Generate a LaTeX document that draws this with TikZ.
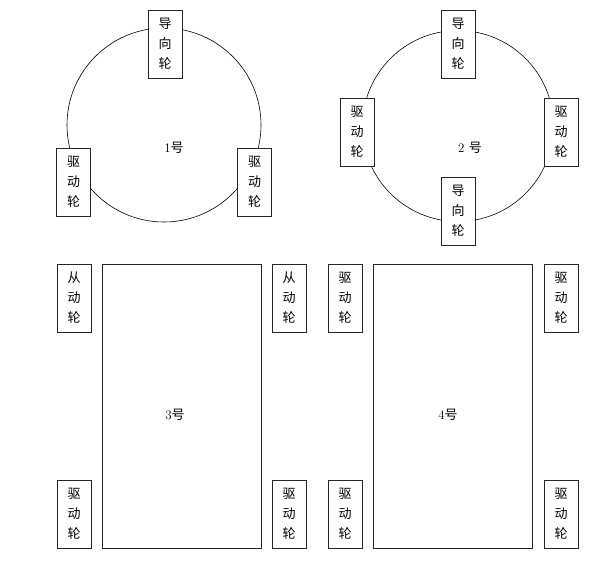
\documentclass[tikz,border=0pt]{standalone}
\usepackage{fontspec}
\newfontfamily\cjk{Noto Sans CJK SC}
\begin{document}
\begin{tikzpicture}[x=1pt, y=-1pt,
  wheel/.style={rectangle,draw=black!85,line width=0.8pt,fill=white,minimum width=34pt,minimum height=68pt,inner sep=0pt,align=center,font=\cjk\fontsize{13}{20}\selectfont},
  body/.style={draw=black!85,line width=0.8pt},
  tag/.style={font=\fontsize{13}{15}\selectfont}]
       \useasboundingbox (0, 0) rectangle (600, 579);

       % 1
       \draw[line width=0.6pt] (164, 125) circle (97);
       \node[tag] (n1) at (174, 148) {1{\cjk 号}};
       \node[wheel] (w1a) at (165, 44) {导\\向\\轮};
       \node[wheel] (w1b) at (73.5, 182) {驱\\动\\轮};
       \node[wheel] (w1c) at (254.5, 182) {驱\\动\\轮};

       % 2
       \draw[line width=0.6pt] (458, 126) circle (95.5);
       \node[tag] (n2) at (470, 148) {2 {\cjk 号}};
       \node[wheel] (w2a) at (458, 44) {导\\向\\轮};
       \node[wheel] (w2b) at (357, 132) {驱\\动\\轮};
       \node[wheel] (w2c) at (561, 132) {驱\\动\\轮};
       \node[wheel] (w2d) at (458, 211) {导\\向\\轮};

       % 3
       \draw[body] (102, 264) rectangle (261, 548);
       \node[tag] (n3) at (175, 415) {3{\cjk 号}};
       \node[wheel] (w3a) at (74, 298) {从\\动\\轮};
       \node[wheel] (w3b) at (289, 298) {从\\动\\轮};
       \node[wheel] (w3c) at (74, 514) {驱\\动\\轮};
       \node[wheel] (w3d) at (289, 514) {驱\\动\\轮};

       % 4
       \draw[body] (373, 264) rectangle (532, 548);
       \node[tag] (n4) at (448, 415) {4{\cjk 号}};
       \node[wheel] (w4a) at (345, 298) {驱\\动\\轮};
       \node[wheel] (w4b) at (561, 298) {驱\\动\\轮};
       \node[wheel] (w4c) at (345, 514) {驱\\动\\轮};
       \node[wheel] (w4d) at (561, 514) {驱\\动\\轮};
\end{tikzpicture}
\end{document}
